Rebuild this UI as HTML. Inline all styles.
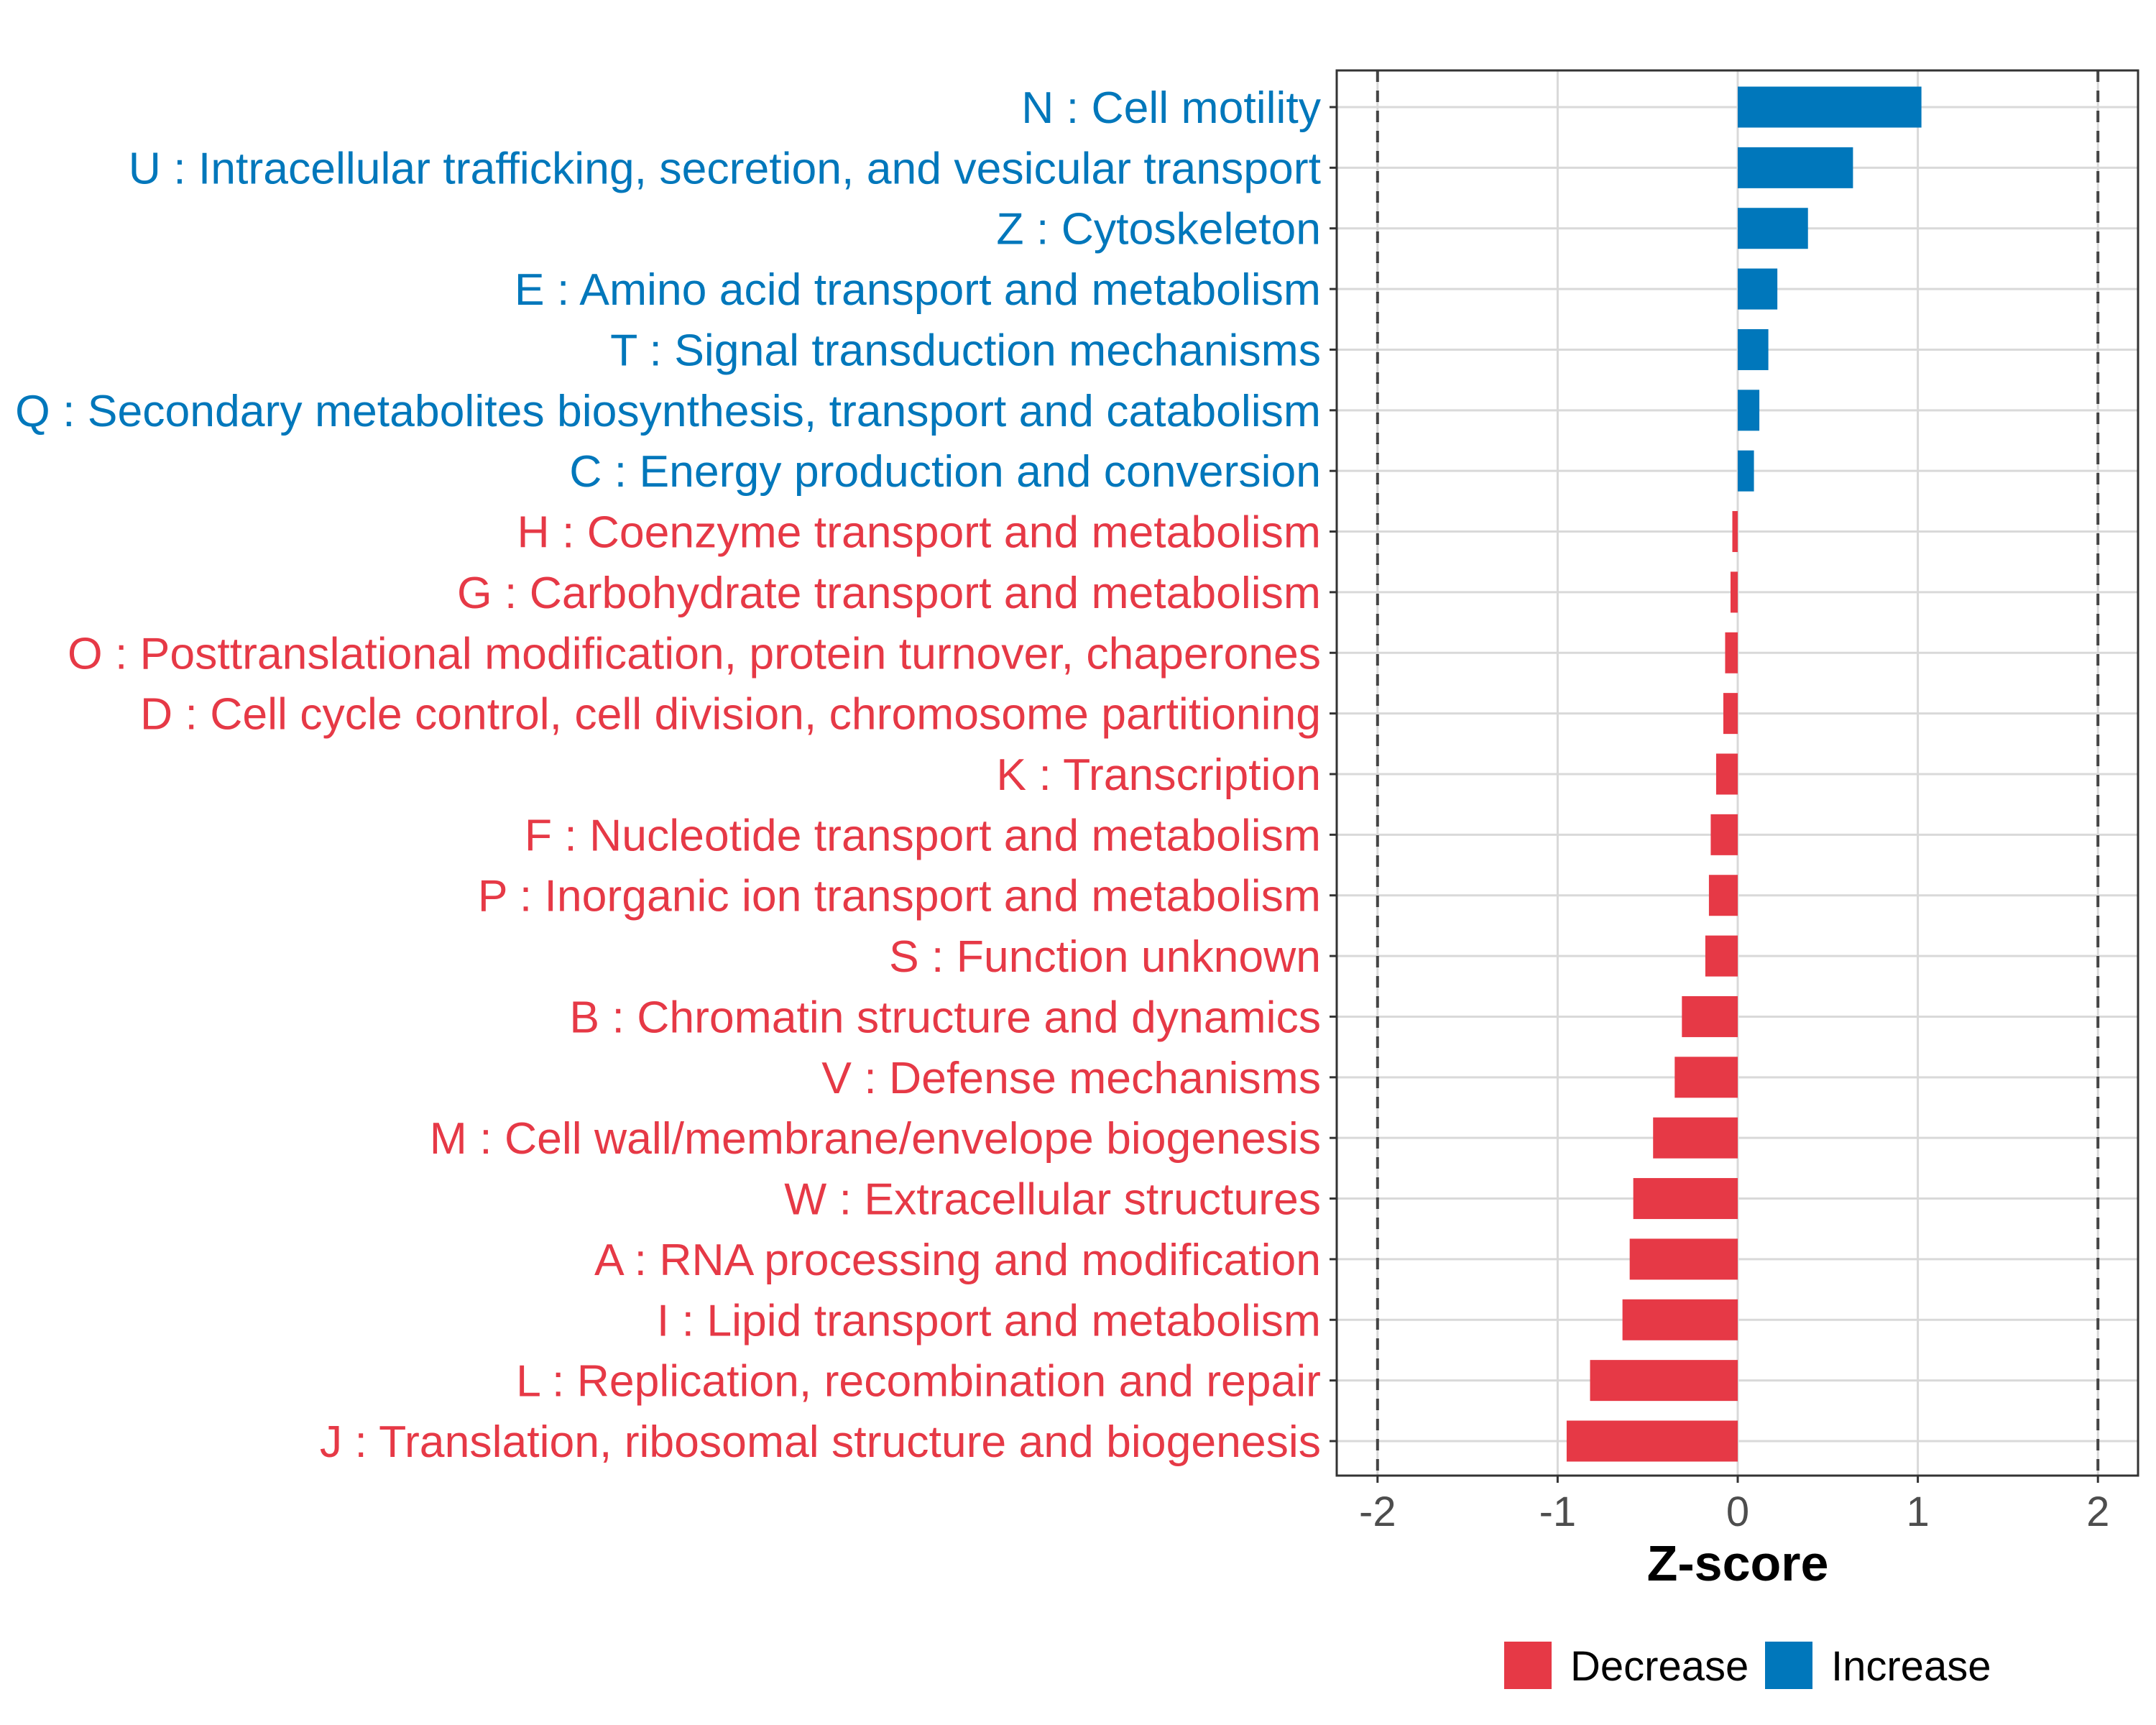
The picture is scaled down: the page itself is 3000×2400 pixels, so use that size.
<!DOCTYPE html>
<html><head><meta charset="utf-8"><style>html,body{margin:0;padding:0;background:#fff}svg{display:block}text{font-family:"Liberation Sans",Arial,sans-serif}</style></head>
<body>
<svg id="chart" width="3000" height="2400" viewBox="0 0 3000 2400" xmlns="http://www.w3.org/2000/svg"></svg>
<script>
const categories=["N : Cell motility","U : Intracellular trafficking, secretion, and vesicular transport","Z : Cytoskeleton","E : Amino acid transport and metabolism","T : Signal transduction mechanisms","Q : Secondary metabolites biosynthesis, transport and catabolism","C : Energy production and conversion","H : Coenzyme transport and metabolism","G : Carbohydrate transport and metabolism","O : Posttranslational modification, protein turnover, chaperones","D : Cell cycle control, cell division, chromosome partitioning","K : Transcription","F : Nucleotide transport and metabolism","P : Inorganic ion transport and metabolism","S : Function unknown","B : Chromatin structure and dynamics","V : Defense mechanisms","M : Cell wall/membrane/envelope biogenesis","W : Extracellular structures","A : RNA processing and modification","I : Lipid transport and metabolism","L : Replication, recombination and repair","J : Translation, ribosomal structure and biogenesis"];
const zscores=[1.02,0.64,0.39,0.22,0.17,0.12,0.09,-0.03,-0.04,-0.07,-0.08,-0.12,-0.15,-0.16,-0.18,-0.31,-0.35,-0.47,-0.58,-0.60,-0.64,-0.82,-0.95];
const xTicks=[-2,-1,0,1,2];
const xTickLabels=["-2","-1","0","1","2"];
const legendLabels=["Decrease","Increase"];
const RED="#E63946",BLUE="#0077BB";
const P={l:1860,r:2975,t:98,b:2053};
const x=v=>2418+v*250.6;
const y=i=>149+i*(2005-149)/(categories.length-1);
const svg=document.getElementById('chart');
const NS="http://www.w3.org/2000/svg";
function mk(tag,a,p){const e=document.createElementNS(NS,tag);for(const k in a)e.setAttribute(k,a[k]);(p||svg).appendChild(e);return e;}
let g;
xTicks.forEach((t,i)=>{g=mk('line',{x1:x(t),x2:x(t),y1:P.t,y2:P.b,stroke:'#d9d9d9','stroke-width':3});

});
categories.forEach((c,i)=>{g=mk('line',{x1:P.l,x2:P.r,y1:y(i),y2:y(i),stroke:'#d9d9d9','stroke-width':3});

});
categories.forEach((c,i)=>{const v=zscores[i];const col=v>=0?BLUE:RED;
const b=mk('rect',{x:Math.min(x(0),x(v)),y:y(i)-28.5,width:Math.abs(x(v)-x(0)),height:57,fill:col});


const tk=mk('line',{x1:P.l-10,x2:P.l,y1:y(i),y2:y(i),stroke:'#333','stroke-width':3});


const t=mk('text',{x:1838,y:y(i)+22,'text-anchor':'end','font-size':62.5,fill:col});t.textContent=c;

});
[-2,2].forEach(v=>{const d=mk('line',{x1:x(v),x2:x(v),y1:P.t,y2:P.b,stroke:'#444','stroke-width':4,'stroke-dasharray':'16,12'});

});
g=mk('rect',{x:P.l,y:P.t,width:P.r-P.l,height:P.b-P.t,fill:'none',stroke:'#333','stroke-width':3});


xTicks.forEach((t,i)=>{const l=mk('line',{x1:x(t),x2:x(t),y1:P.b,y2:P.b+10,stroke:'#333','stroke-width':3});


const tx=mk('text',{x:x(t),y:2123,'text-anchor':'middle','font-size':58,fill:'#4d4d4d'});tx.textContent=xTickLabels[i];

});
g=mk('text',{x:2418,y:2199,'text-anchor':'middle','font-size':70,'font-weight':'bold',fill:'#000'});g.textContent="Z-score";


[[2093,RED,2185],[2456,BLUE,2548]].forEach((L,i)=>{const r=mk('rect',{x:L[0],y:2284,width:66,height:66,fill:L[1]});


const t=mk('text',{x:L[2],y:2338,'font-size':58,fill:'#000'});t.textContent=legendLabels[i];

});
</script>
</body></html>
